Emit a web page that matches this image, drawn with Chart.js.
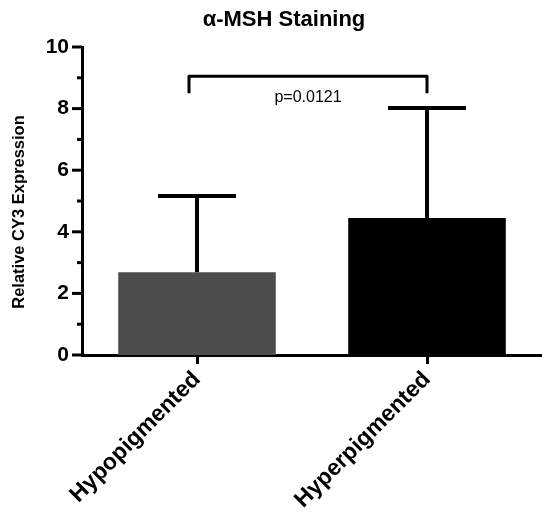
<!DOCTYPE html>
<html>
<head>
<meta charset="utf-8">
<script src="https://cdn.jsdelivr.net/npm/chart.js@4"></script>
<style>
  html, body { margin: 0; padding: 0; background: #fff; }
  #wrap { width: 542px; height: 515px; }
</style>
</head>
<body>
<div id="wrap"><canvas id="c" width="542" height="515"></canvas></div>
<script>
const categories = ['Hypopigmented', 'Hyperpigmented'];
const meanValues = [2.69, 4.45];
const errorTops = [5.16, 8.02];
const barColors = ['#4d4d4d', '#000000'];
const yTickValues = [0, 2, 4, 6, 8, 10];
const bracketLevel = 9.05;
const bracketEnd = 8.5;
const pLabel = 'p=0.0121';
const yTitle = 'Relative CY3 Expression';

const FONT = "'Liberation Sans', Arial, Helvetica, sans-serif";

const decorPlugin = {
  id: 'decor',
  afterDatasetsDraw(chart) {
    const ctx = chart.ctx;
    const xs = chart.scales.x, ys = chart.scales.y;
    ctx.save();
    ctx.strokeStyle = '#000';
    ctx.lineCap = 'butt';
    // error bars
    meanValues.forEach((m, i) => {
      const x = xs.getPixelForValue(i);
      const yTop = ys.getPixelForValue(errorTops[i]);
      const yBar = ys.getPixelForValue(m);
      ctx.lineWidth = 4;
      ctx.beginPath();
      ctx.moveTo(x, yBar);
      ctx.lineTo(x, yTop);
      ctx.stroke();
      ctx.beginPath();
      ctx.moveTo(x - 39, yTop);
      ctx.lineTo(x + 39, yTop);
      ctx.stroke();
    });
    // y-axis tick marks (major + minor)
    const left = chart.chartArea.left;
    ctx.lineWidth = 3;
    for (let v = 0; v <= 10; v++) {
      const y = ys.getPixelForValue(v);
      const len = (v % 2 === 0) ? 10 : 5;
      ctx.beginPath();
      ctx.moveTo(left - len, y);
      ctx.lineTo(left, y);
      ctx.stroke();
    }
    // significance bracket
    const x0 = xs.getPixelForValue(0) - 8;
    const x1 = xs.getPixelForValue(1);
    const yb = ys.getPixelForValue(bracketLevel);
    const ye = ys.getPixelForValue(bracketEnd);
    ctx.lineWidth = 3;
    ctx.lineJoin = 'round';
    ctx.beginPath();
    ctx.moveTo(x0, ye);
    ctx.lineTo(x0, yb);
    ctx.lineTo(x1, yb);
    ctx.lineTo(x1, ye);
    ctx.stroke();
    ctx.fillStyle = '#000';
    ctx.font = '16px ' + FONT;
    ctx.textAlign = 'center';
    ctx.textBaseline = 'middle';
    ctx.fillText(pLabel, (x0 + x1) / 2, yb + 21);
    // y-axis title
    ctx.save();
    ctx.translate(19, (chart.chartArea.top + chart.chartArea.bottom) / 2 + 11);
    ctx.rotate(-Math.PI / 2);
    ctx.font = 'bold 16.5px ' + FONT;
    ctx.textAlign = 'center';
    ctx.textBaseline = 'middle';
    ctx.fillText(yTitle, 0, 0);
    ctx.restore();
    ctx.restore();
  }
};

new Chart(document.getElementById('c'), {
  type: 'bar',
  data: {
    labels: categories,
    datasets: [{
      data: meanValues,
      backgroundColor: barColors,
      borderWidth: 0,
      categoryPercentage: 1,
      barPercentage: 0.685
    }]
  },
  options: {
    responsive: false,
    animation: false,
    devicePixelRatio: 1,
    layout: { padding: { left: 22, right: -4, top: 0, bottom: 0 } },
    plugins: {
      legend: { display: false },
      tooltip: { enabled: false },
      title: {
        display: true,
        text: 'α-MSH Staining',
        color: '#000',
        font: { family: FONT, size: 22, weight: 'bold', lineHeight: 1.2 },
        padding: { top: 7, bottom: 13.6 }
      }
    },
    scales: {
      x: {
        border: { color: '#000', width: 3 },
        grid: { drawOnChartArea: false, color: '#000', lineWidth: 3, tickLength: 9, offset: false },
        ticks: {
          color: '#000',
          font: { family: FONT, size: 23, weight: 'bold' },
          minRotation: 45, maxRotation: 45, padding: 2
        },
        afterFit(s) { s.height = 160; }
      },
      y: {
        min: 0, max: 10,
        afterBuildTicks(s) { s.ticks = yTickValues.map(v => ({ value: v })); },
        border: { color: '#000', width: 3 },
        grid: { display: false, drawTicks: false },
        ticks: {
          color: '#000',
          padding: 13,
          font: { family: FONT, size: 21, weight: 'bold' }
        },
        afterFit(s) { s.width = 60; }
      }
    }
  },
  plugins: [decorPlugin]
});
</script>
</body>
</html>
